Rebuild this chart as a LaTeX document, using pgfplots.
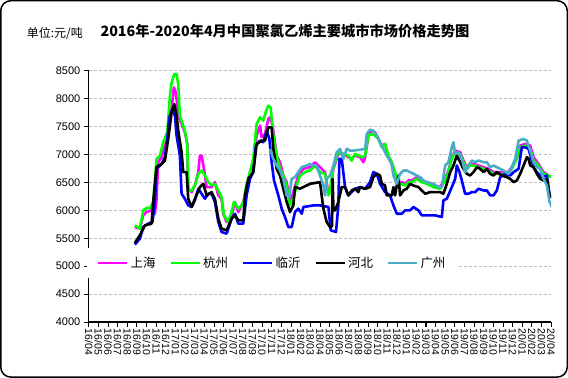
\documentclass[border=0pt]{standalone}
\usepackage{fontspec}
\setmainfont{Liberation Sans}
\newfontfamily\cjk{Noto Sans CJK SC}
\usepackage{pgfplots}
\pgfplotsset{compat=1.18}
\definecolor{cSH}{RGB}{255,0,255}
\definecolor{cHZ}{RGB}{0,255,0}
\definecolor{cLY}{RGB}{0,0,255}
\definecolor{cHB}{RGB}{0,0,0}
\definecolor{cGZ}{RGB}{75,172,198}
\definecolor{cGrid}{RGB}{190,190,190}
\begin{document}
\begin{tikzpicture}
\draw[line width=1.5bp, rounded corners=10bp] (1bp,1bp) rectangle (567bp,377bp);
\node[font=\cjk\fontsize{14.3}{15}\selectfont\bfseries] at (285bp,347bp) {2016年-2020年4月中国聚氯乙烯主要城市市场价格走势图};
\node[font=\cjk\fontsize{12}{12}\selectfont, anchor=west, inner sep=0pt] at (27bp,344bp) {单位:元/吨};
\begin{axis}[
  at={(89bp,56bp)}, anchor=south west,
  scale only axis, width=462bp, height=251bp,
  xmin=0, xmax=48, ymin=4000, ymax=8500,
  axis x line*=bottom, axis y line*=left,
  axis line style={-, line width=1.2bp},
  xtick={0,...,48},
  xticklabels={16/04,16/05,16/06,16/07,16/08,16/09,16/10,16/11,16/12,17/01,17/02,17/03,17/04,17/05,17/06,17/07,17/08,17/09,17/10,17/11,17/12,18/01,18/02,18/03,18/04,18/05,18/06,18/07,18/08,18/09,18/10,18/11,18/12,19/01,19/02,19/03,19/04,19/05,19/06,19/07,19/08,19/09,19/10,19/11,19/12,20/01,20/02,20/03,20/04},
  x tick label style={rotate=-90, anchor=west, font=\fontsize{10.5}{11}\selectfont, inner sep=1.5bp},
  ytick={4000,4500,...,8500},
  y tick label style={font=\fontsize{11}{12}\selectfont},
  /pgf/number format/assume math mode=true, /pgf/number format/1000 sep={},
  tick align=outside, major tick length=5bp, tick style={black, line width=1bp},
  ymajorgrids, grid style={dash pattern=on 3bp off 2bp, cGrid, line width=0.7bp},
  legend style={at={(axis description cs:-0.004,0.235)}, anchor=west, fill=white, draw=none,
    legend columns=5, font=\cjk\fontsize{12.5}{13}\selectfont, inner xsep=10bp, inner ysep=7bp,
    /tikz/every even column/.append style={column sep=12bp}},
  legend image code/.code={\draw[#1, line width=2.5bp] (0bp,0bp) -- (29bp,0bp);},
  every axis plot/.append style={line width=2.6bp, line join=round},
]
\addplot[cSH] coordinates {(4.78,5702) (5.30,5673) (5.65,5911) (5.99,5970) (6.51,6000) (6.86,5940) (7.03,6208) (7.20,6863) (7.55,6952) (7.90,7161) (8.24,7310) (8.59,7815) (8.83,8202) (9.04,8113) (9.28,7696) (9.63,7548) (9.97,7399) (10.22,7190) (10.32,6387) (10.67,6327) (11.01,6446) (11.36,6685) (11.53,6982) (11.71,6982) (11.95,6744) (12.23,6417) (12.74,6417) (13.09,6506) (13.44,6268) (13.78,6208) (13.96,5940) (14.30,5792) (14.82,5911) (15.17,6149) (15.52,5970) (16.03,6149) (16.38,6387) (16.73,6685) (17.07,6863) (17.42,7339) (17.77,7518) (17.94,7310) (18.29,7369) (18.63,7637) (18.81,7667) (19.08,7518) (19.32,7220) (19.50,6982) (19.84,6863) (20.19,6625) (20.54,6506) (20.88,6149) (21.23,6327) (21.75,6625) (22.27,6744) (22.96,6774) (23.48,6863) (24.00,6774) (24.52,6685) (24.87,6300) (25.04,6357) (25.39,6744) (25.90,7012) (26.42,7012) (26.94,6952) (27.29,6923) (27.64,6982) (28.16,6952) (28.50,6863) (28.68,6952) (29.02,7339) (29.37,7429) (29.71,7399) (30.06,7280) (30.41,7161) (30.75,7190) (31.10,6952) (31.45,6833) (31.79,6655) (32.14,6476) (32.48,6506) (32.83,6476) (33.18,6536) (33.52,6536) (34.04,6595) (34.56,6536) (35.08,6506) (35.77,6446) (36.47,6417) (36.99,6565) (37.33,6714) (37.68,6952) (38.03,7071) (38.55,7042) (38.89,6893) (39.24,6774) (39.58,6833) (39.93,6833) (40.45,6804) (40.97,6774) (41.49,6744) (42.01,6685) (42.70,6685) (43.39,6655) (43.91,6774) (44.43,6952) (44.78,7161) (45.30,7190) (45.82,7161) (46.16,6952) (46.68,6833) (47.20,6685) (47.72,6625) (48.07,6595)};
\addlegendentry{上海}
\addplot[cHZ] coordinates {(4.78,5732) (5.30,5673) (5.65,6000) (5.99,6042) (6.34,6042) (6.68,6149) (7.03,6923) (7.38,6982) (7.72,7220) (8.14,7399) (8.42,8054) (8.59,8292) (8.87,8440) (9.11,8440) (9.28,8262) (9.45,7696) (9.80,7518) (10.08,7339) (10.22,7161) (10.32,6357) (10.67,6357) (11.01,6446) (11.36,6655) (11.71,6714) (12.05,6625) (12.40,6506) (12.74,6446) (13.09,6476) (13.44,6357) (13.78,6238) (14.03,5911) (14.48,5792) (14.82,5970) (15.06,6149) (15.52,6030) (16.03,6119) (16.31,6417) (16.73,6685) (17.07,6923) (17.42,7548) (17.77,7667) (18.11,7607) (18.35,7756) (18.63,7875) (18.87,7845) (19.15,7339) (19.50,6982) (19.84,6744) (20.19,6625) (20.54,6446) (20.88,6089) (21.23,6208) (21.58,6446) (21.92,6625) (22.44,6685) (22.96,6714) (23.48,6804) (24.00,6685) (24.52,6655) (24.87,6268) (25.04,6327) (25.39,6774) (25.90,7042) (26.42,7012) (26.94,6982) (27.29,6893) (27.64,7012) (27.98,6982) (28.33,6952) (28.68,6982) (29.02,7339) (29.37,7369) (29.71,7339) (30.06,7280) (30.41,7131) (30.75,7190) (31.10,6982) (31.45,6863) (31.79,6685) (32.14,6446) (32.48,6476) (32.83,6446) (33.18,6506) (33.52,6506) (34.04,6565) (34.56,6506) (35.08,6476) (35.77,6417) (36.47,6387) (36.99,6536) (37.33,6685) (37.68,6923) (38.03,7042) (38.55,7012) (38.89,6863) (39.24,6744) (39.58,6804) (39.93,6804) (40.45,6774) (40.97,6744) (41.49,6714) (42.01,6655) (42.70,6655) (43.39,6625) (43.91,6744) (44.43,6923) (44.78,7131) (45.30,7161) (45.82,7101) (46.16,6893) (46.68,6804) (47.20,6655) (47.72,6625) (48.07,6595)};
\addlegendentry{杭州}
\addplot[cLY] coordinates {(4.78,5387) (5.30,5494) (5.65,5702) (6.16,5762) (6.61,5792) (6.86,6149) (7.03,6744) (7.55,6833) (7.90,6952) (8.14,7280) (8.35,7667) (8.69,7815) (8.94,7696) (9.11,7339) (9.45,6982) (9.63,6298) (9.97,6208) (10.32,6089) (10.67,6060) (11.01,6179) (11.36,6387) (11.71,6298) (12.05,6208) (12.40,6298) (12.74,6298) (13.09,6149) (13.44,5792) (13.78,5613) (14.30,5583) (14.82,5851) (15.17,5940) (15.52,5762) (16.03,5762) (16.38,6268) (16.73,6565) (17.07,6685) (17.35,7161) (17.77,7250) (18.11,7220) (18.46,7429) (18.74,7280) (18.98,6863) (19.22,6536) (19.67,6268) (20.02,6030) (20.36,5881) (20.71,5702) (21.06,5702) (21.40,5970) (21.75,6030) (22.10,5940) (22.27,6060) (23.31,6089) (24.00,6089) (24.87,6060) (25.11,5643) (25.66,5613) (25.90,6089) (26.01,6923) (26.25,6923) (26.60,6417) (26.94,6268) (27.29,6327) (27.64,6387) (28.16,6417) (28.68,6387) (29.19,6506) (29.54,6685) (29.89,6655) (30.23,6476) (30.75,6327) (31.27,6268) (31.62,6089) (31.97,5940) (32.48,5940) (32.83,6000) (33.35,6000) (33.70,6060) (34.22,6000) (34.56,5911) (35.26,5911) (35.95,5911) (36.64,5881) (36.81,6179) (37.16,6208) (37.68,6417) (38.03,6565) (38.20,6804) (38.48,6685) (38.72,6536) (39.06,6298) (39.41,6298) (39.76,6327) (40.10,6327) (40.45,6387) (40.97,6357) (41.32,6357) (41.66,6268) (42.01,6268) (42.35,6357) (42.70,6595) (43.22,6655) (43.74,6625) (44.09,6685) (44.61,6744) (44.95,7131) (45.30,7131) (45.65,7101) (46.16,6774) (46.51,6685) (47.03,6595) (47.55,6625) (47.83,6268) (48.07,6238)};
\addlegendentry{临沂}
\addplot[cHB] coordinates {(4.78,5417) (5.30,5554) (5.82,5732) (6.51,5762) (6.68,6149) (7.03,6774) (7.55,6833) (7.90,6893) (8.24,7280) (8.59,7756) (8.87,7905) (9.11,7696) (9.28,7429) (9.63,7042) (9.80,6685) (10.15,6685) (10.32,6208) (10.67,6060) (11.01,6208) (11.53,6417) (11.88,6476) (12.23,6268) (12.74,6327) (13.09,6208) (13.44,5851) (13.78,5673) (14.30,5643) (14.82,5851) (15.17,5911) (15.52,5821) (16.03,5821) (16.21,6268) (16.55,6565) (17.07,6685) (17.42,7190) (17.94,7250) (18.29,7250) (18.63,7488) (18.98,7488) (19.15,7101) (19.50,6744) (19.84,6625) (20.19,6387) (20.54,6149) (20.88,5970) (21.23,6089) (21.40,6417) (21.92,6387) (22.27,6417) (22.96,6476) (24.00,6506) (24.17,6268) (24.35,6030) (24.69,5792) (25.04,5702) (25.25,5720) (25.30,6565) (25.40,6000) (25.56,6000) (25.90,6149) (26.25,6417) (26.60,6417) (26.94,6268) (27.29,6357) (27.64,6387) (27.98,6327) (28.16,6417) (28.68,6387) (29.19,6417) (29.54,6595) (29.89,6655) (30.23,6625) (30.41,6476) (30.75,6446) (30.93,6268) (31.45,6268) (31.62,6417) (31.79,6268) (32.14,6625) (32.31,6268) (32.66,6357) (33.00,6387) (33.35,6476) (33.70,6446) (34.22,6417) (34.56,6357) (34.91,6298) (35.43,6327) (35.95,6327) (36.47,6327) (36.81,6298) (37.16,6476) (37.51,6685) (37.85,6804) (38.20,6982) (38.55,6863) (38.89,6744) (39.24,6655) (39.58,6625) (39.93,6685) (40.28,6774) (40.62,6744) (40.97,6685) (41.32,6744) (41.66,6655) (42.01,6625) (42.35,6685) (42.87,6625) (43.39,6595) (43.74,6565) (44.09,6506) (44.43,6536) (44.78,6655) (45.13,6804) (45.47,6952) (45.65,6923) (45.82,6804) (46.16,6774) (46.51,6655) (46.86,6565) (47.20,6536) (47.55,6565) (47.83,6268) (48.07,6238)};
\addlegendentry{河北}
\addplot[cGZ] coordinates {(18.81,7101) (19.15,6923) (19.50,6804) (19.84,6714) (20.19,6565) (20.54,6268) (20.81,6238) (21.06,6565) (21.40,6595) (21.75,6685) (22.10,6774) (22.61,6804) (22.96,6833) (23.31,6804) (23.65,6804) (24.00,6625) (24.35,6446) (24.52,6268) (24.69,6565) (25.04,6625) (25.39,6804) (25.73,7042) (26.08,7101) (26.42,6923) (26.77,7101) (27.12,7071) (27.46,7071) (28.16,7086) (28.68,7101) (28.85,7369) (29.19,7446) (29.54,7429) (29.89,7339) (30.23,7220) (30.58,7101) (30.93,6982) (31.27,6893) (31.45,6804) (31.62,6625) (31.97,6476) (32.31,6655) (32.66,6714) (33.00,6714) (33.35,6685) (33.70,6655) (34.04,6625) (34.39,6595) (34.74,6536) (35.08,6506) (35.77,6476) (36.29,6417) (36.64,6417) (36.99,6804) (37.33,6863) (37.68,7131) (37.85,7220) (38.03,7012) (38.37,7042) (38.72,6923) (39.06,6685) (39.41,6804) (39.76,6893) (40.10,6863) (40.45,6893) (40.97,6863) (41.32,6863) (41.66,6774) (42.01,6804) (42.35,6774) (42.70,6744) (43.05,6714) (43.57,6655) (43.91,6774) (44.26,6923) (44.61,7250) (45.13,7280) (45.47,7250) (45.82,7071) (46.16,6863) (46.51,6774) (46.86,6744) (47.20,6565) (47.55,6446) (47.83,6149) (48.07,6060)};
\addlegendentry{广州}
\end{axis}
\end{tikzpicture}
\end{document}
